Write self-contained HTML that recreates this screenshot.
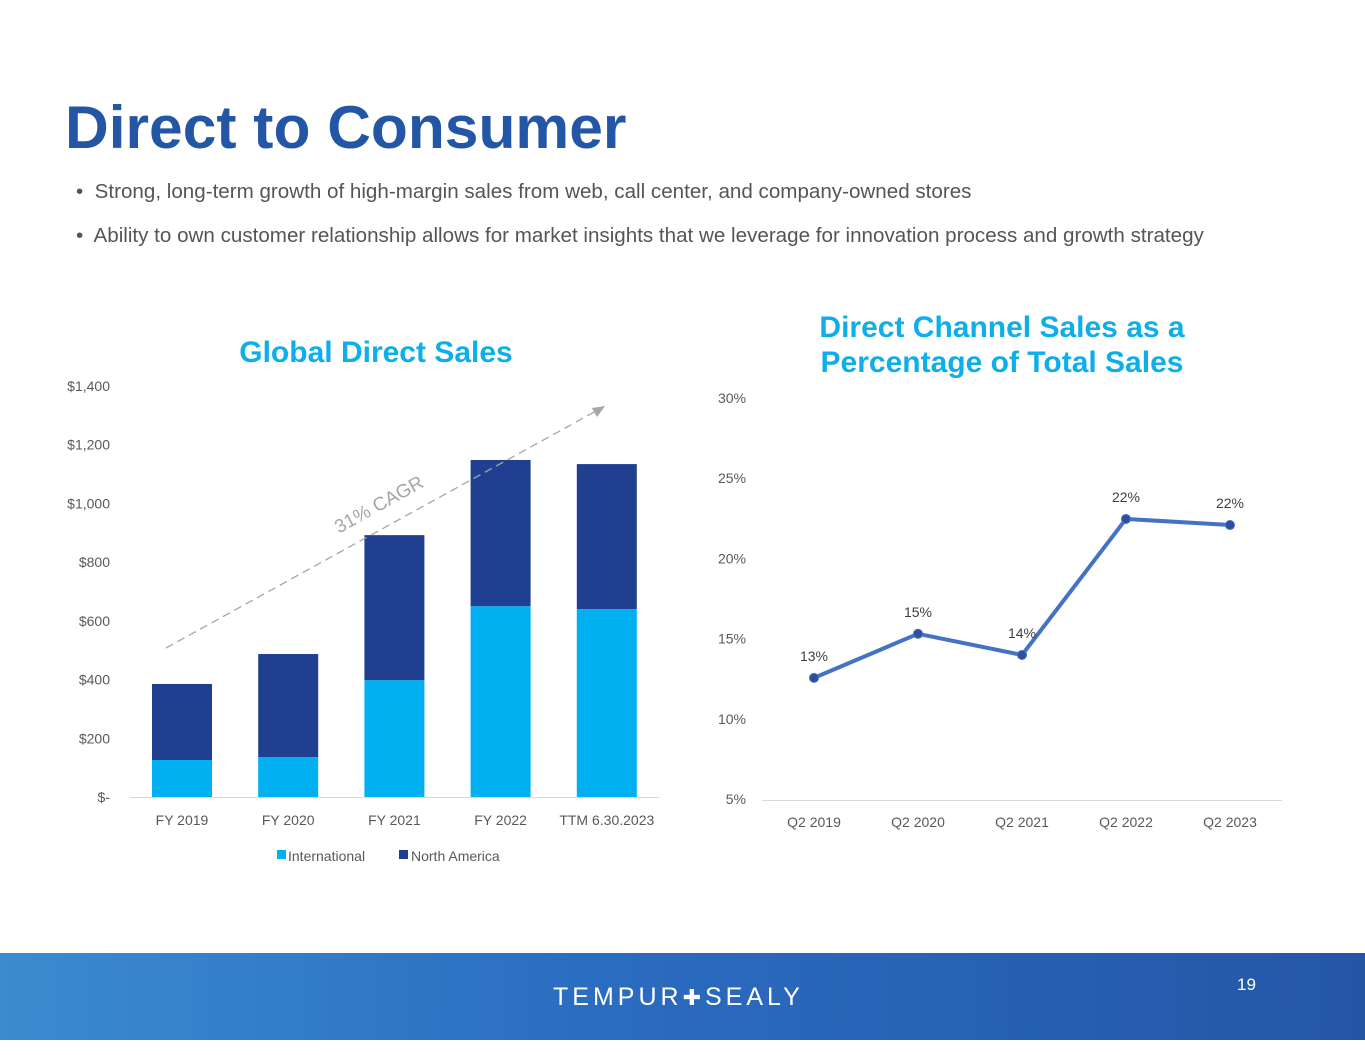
<!DOCTYPE html>
<html><head><meta charset="utf-8"><style>
body{margin:0;width:1365px;height:1055px;background:#fff;position:relative;overflow:hidden;font-family:"Liberation Sans",sans-serif}
.t{position:absolute}
</style></head><body>
<div class="t" style="left:65px;top:92px;font-size:60.5px;font-weight:bold;color:#2456a6">Direct to Consumer</div>
<div class="t" style="left:76px;top:180px;font-size:20.6px;color:#555;white-space:nowrap">•&nbsp; Strong, long-term growth of high-margin sales from web, call center, and company-owned stores</div>
<div class="t" style="left:76px;top:224px;font-size:20.6px;color:#555;white-space:nowrap">•&nbsp; Ability to own customer relationship allows for market insights that we leverage for innovation process and growth strategy</div>
<div class="t" style="left:176px;width:400px;text-align:center;top:336px;font-size:30px;font-weight:bold;color:#0daeea">Global Direct Sales</div>
<div class="t" style="left:752px;width:500px;text-align:center;top:310px;font-size:30px;font-weight:bold;color:#0daeea;line-height:35px">Direct Channel Sales as a<br>Percentage of Total Sales</div>
<svg class="t" style="left:0;top:0" width="1365" height="1055">
<g id="bars"></g><g id="line"></g>
</svg>
<div class="t" style="left:0;top:953px;width:1365px;height:87px;background:linear-gradient(90deg,#3b8bd0,#2a6cc0 45%,#2456a6 100%)"></div>
<div class="t" style="left:553px;top:983px;font-size:25px;letter-spacing:4px;color:#fff;white-space:nowrap">TEMPUR<span style="font-size:22px">✚</span>SEALY</div>
<div class="t" style="left:1237px;top:975px;font-size:17px;color:#fff">19</div>
<script>
const cats=["FY 2019","FY 2020","FY 2021","FY 2022","TTM 6.30.2023"];
const intl=[126,136,398,650,640];
const na=[259,351,494,498,494];
const yTicks=[0,200,400,600,800,1000,1200,1400];
const yTickLabels=["$-","$200","$400","$600","$800","$1,000","$1,200","$1,400"];
const qCats=["Q2 2019","Q2 2020","Q2 2021","Q2 2022","Q2 2023"];
const pct=[12.55,15.3,13.98,22.46,22.08];
const pctLabels=["13%","15%","14%","22%","22%"];
const pTicks=[5,10,15,20,25,30];
const NS="http://www.w3.org/2000/svg";
function mk(p,tag,a,txt){const e=document.createElementNS(NS,tag);for(const k in a)e.setAttribute(k,a[k]);if(txt!=null)e.textContent=txt;p.appendChild(e);return e;}
const g=document.getElementById('bars');
const y=v=>797-v*411/1400, x=i=>182+i*106.2;
yTicks.forEach((t,i)=>{const e=mk(g,'text',{x:110,y:y(t)+5,'text-anchor':'end','font-size':14,fill:'#595959'},yTickLabels[i]);

});
mk(g,'line',{x1:130,x2:660,y1:797.5,y2:797.5,stroke:'#d9d9d9'});
cats.forEach((c,i)=>{
const r1=mk(g,'rect',{x:x(i)-30,y:y(intl[i]),width:60,height:y(0)-y(intl[i]),fill:'#00b0f0'});


const r2=mk(g,'rect',{x:x(i)-30,y:y(intl[i]+na[i]),width:60,height:y(intl[i])-y(intl[i]+na[i]),fill:'#203f91'});


const tl=mk(g,'text',{x:x(i),y:825,'text-anchor':'middle','font-size':14,fill:'#595959'},c);


});
mk(g,'line',{x1:166,y1:648,x2:596,y2:411,stroke:'#a6a6a6','stroke-width':1.3,'stroke-dasharray':'8,5'});
mk(g,'polygon',{points:'605,406 592,408 597,417',fill:'#a6a6a6'});
const cg=mk(g,'text',{x:0,y:0,'font-size':19,fill:'#a6a6a6','text-anchor':'middle',transform:'translate(382,510) rotate(-29)'},'31% CAGR');


mk(g,'rect',{x:277,y:850,width:9,height:9,fill:'#00b0f0'});
mk(g,'text',{x:288,y:861,'font-size':14,fill:'#595959'},'International');
mk(g,'rect',{x:399,y:850,width:9,height:9,fill:'#203f91'});
mk(g,'text',{x:411,y:861,'font-size':14,fill:'#595959'},'North America');
const h=document.getElementById('line');
const py=v=>799-(v-5)*401/25, px=i=>814+i*104;
pTicks.forEach(t=>{const e=mk(h,'text',{x:746,y:py(t)+5,'text-anchor':'end','font-size':14,fill:'#595959'},t+'%');

});
mk(h,'line',{x1:762,x2:1282,y1:800.5,y2:800.5,stroke:'#d9d9d9'});
mk(h,'polyline',{points:pct.map((v,i)=>px(i)+','+py(v)).join(' '),fill:'none',stroke:'#4472c4','stroke-width':4});
pct.forEach((v,i)=>{
const c=mk(h,'circle',{cx:px(i),cy:py(v),r:4.5,fill:'#2f4f9e',stroke:'#4472c4'});


const l=mk(h,'text',{x:px(i),y:py(v)-17,'text-anchor':'middle','font-size':14,fill:'#404040'},pctLabels[i]);


const tl=mk(h,'text',{x:px(i),y:827,'text-anchor':'middle','font-size':14,fill:'#595959'},qCats[i]);


});
</script>
</body></html>
